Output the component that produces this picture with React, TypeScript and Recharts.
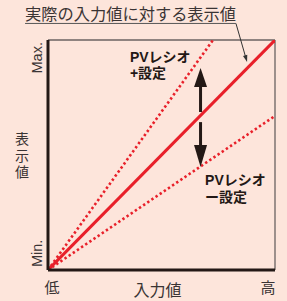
import React from 'react';
import { LineChart, Line, XAxis, YAxis, ReferenceLine, ReferenceDot } from 'recharts';

const BG = '#fde5db';
const RED = '#e8202a';
const INK = '#231815';
const GRAY = '#6a6262';
const TXT = '#3a3434';
const JP = '"Noto Sans CJK JP", "Noto Sans", sans-serif';
const LAT = '"Liberation Sans", Arial, "Noto Sans CJK JP", sans-serif';

// series (normalised input -> displayed value)
const actualLine = [{ x: 0, y: 0 }, { x: 1, y: 1 }];
const plusLine = [{ x: 0, y: 0 }, { x: 0.727, y: 1 }];
const minusLine = [{ x: 0, y: 0 }, { x: 1, y: 0.67 }];

// tick labels
const xTickValues = [0.018, 0.969];
const xTickLabels = ['低', '高'];
const yTickValues = [0.013, 0.991];
const yTickLabels = ['Min.', 'Max.'];

// titles / annotations
const titleText = '実際の入力値に対する表示値';
const xTitle = '入力値';
const yTitle = '表示値';
const plusLabel = ['PVレシオ', '+設定'];
const minusLabel = ['PVレシオ', 'ー設定'];

const arrowX = 0.672;
const upArrow = [{ x: arrowX, y: 0.687 }, { x: arrowX, y: 0.878 }];
const downArrow = [{ x: arrowX, y: 0.643 }, { x: arrowX, y: 0.448 }];
const leaderSeg = [{ x: 0.828, y: 1.072 }, { x: 0.877, y: 0.904 }];

const arrowShape = (w: number, headLen: number, headHalf: number, color: string) => (p: any) => {
  const { x1, y1, x2, y2 } = p;
  const dx = x2 - x1;
  const dy = y2 - y1;
  const len = Math.sqrt(dx * dx + dy * dy) || 1;
  const ux = dx / len;
  const uy = dy / len;
  const bx = x2 - ux * headLen;
  const by = y2 - uy * headLen;
  const nx = -uy;
  const ny = ux;
  const pts = `${x2},${y2} ${bx + nx * headHalf},${by + ny * headHalf} ${bx - nx * headHalf},${by - ny * headHalf}`;
  return (
    <g>
      <line x1={x1} y1={y1} x2={bx + ux * 1} y2={by + uy * 1} stroke={color} strokeWidth={w} />
      <polygon points={pts} fill={color} />
    </g>
  );
};

const textDot = (lines: string[], opts: { anchor?: string; size: number; weight?: number; family: string; lh: number; fill: string }) => (p: any) => (
  <g>
    {lines.map((t, k) => (
      <text
        key={k}
        x={p.cx}
        y={p.cy + k * opts.lh}
        textAnchor={opts.anchor || 'start'}
        fontFamily={opts.family}
        fontSize={opts.size}
        fontWeight={opts.weight || 400}
        fill={opts.fill}
      >
        {t}
      </text>
    ))}
  </g>
);

const verticalDot = (label: string) => (p: any) => (
  <text
    x={p.cx}
    y={p.cy}
    style={{ writingMode: 'vertical-rl' as any }}
    fontFamily={JP}
    fontSize={14}
    letterSpacing={2.5}
    fill={TXT}
  >
    {label}
  </text>
);

const rotatedDot = (label: string, anchor: string) => (p: any) => (
  <text
    x={p.cx}
    y={p.cy}
    transform={`rotate(-90 ${p.cx} ${p.cy})`}
    textAnchor={anchor}
    fontFamily={LAT}
    fontSize={14.5}
    fill={TXT}
  >
    {label}
  </text>
);

const titleShape = (p: any) => (
  <text x={p.cx} y={p.cy} fontFamily={JP} fontSize={16} fill={TXT} textLength={211} lengthAdjust="spacingAndGlyphs">
    {titleText}
  </text>
);

export default function App() {
  return (
    <div style={{ position: 'fixed', left: 0, top: 0, width: 287, height: 301, background: BG }}>
      <LineChart width={287} height={301} margin={{ top: 40, right: 12, bottom: 31, left: 48 }}>
        <XAxis type="number" dataKey="x" domain={[0, 1]} height={0} tick={false} tickLine={false} axisLine={false} allowDataOverflow />
        <YAxis type="number" dataKey="y" domain={[0, 1]} width={0} tick={false} tickLine={false} axisLine={false} allowDataOverflow />
        <ReferenceLine y={1} stroke={GRAY} strokeWidth={1.3} ifOverflow="visible" />
        <ReferenceLine x={1} stroke={GRAY} strokeWidth={1.3} ifOverflow="visible" />

        <Line data={minusLine} dataKey="y" stroke={RED} strokeWidth={2.6} strokeDasharray="2.4 2.6" dot={false} isAnimationActive={false} />
        <Line data={plusLine} dataKey="y" stroke={RED} strokeWidth={2.6} strokeDasharray="2.4 2.6" dot={false} isAnimationActive={false} />
        <Line data={actualLine} dataKey="y" stroke={RED} strokeWidth={3} dot={false} isAnimationActive={false} />

        <ReferenceLine y={0} stroke={INK} strokeWidth={3} ifOverflow="visible" segment={[{ x: -0.007, y: 0 }, { x: 1.003, y: 0 }]} />
        <ReferenceLine x={0} stroke={INK} strokeWidth={3} ifOverflow="visible" segment={[{ x: 0, y: 0 }, { x: 0, y: 1 }]} />

        <ReferenceLine segment={upArrow} ifOverflow="visible" shape={arrowShape(3, 19, 6.5, INK)} />
        <ReferenceLine segment={downArrow} ifOverflow="visible" shape={arrowShape(3, 22, 6.5, INK)} />
        <ReferenceLine segment={leaderSeg} ifOverflow="visible" shape={arrowShape(1, 7, 2.2, '#333')} />
        <ReferenceLine segment={[{ x: -0.101, y: 1.072 }, { x: 0.828, y: 1.072 }]} ifOverflow="visible" stroke="#555" strokeWidth={1} />

        <ReferenceDot x={-0.101} y={1.088} r={0} ifOverflow="visible" shape={titleShape} />
        <ReferenceDot x={0.361} y={0.904} r={0} ifOverflow="visible"
          shape={textDot(plusLabel, { size: 14, weight: 700, family: LAT, lh: 16, fill: INK })} />
        <ReferenceDot x={0.692} y={0.37} r={0} ifOverflow="visible"
          shape={textDot(minusLabel, { size: 14, weight: 700, family: LAT, lh: 17, fill: INK })} />
        <ReferenceDot x={0.482} y={-0.113} r={0} ifOverflow="visible"
          shape={textDot([xTitle], { size: 16, anchor: 'middle', family: JP, lh: 0, fill: TXT })} />
        <ReferenceDot x={-0.115} y={0.6} r={0} ifOverflow="visible" shape={verticalDot(yTitle)} />

        {xTickValues.map((v, i) => (
          <ReferenceDot key={`xt${i}`} x={v} y={-0.1} r={0} ifOverflow="visible"
            shape={textDot([xTickLabels[i]], { size: 15, anchor: 'middle', family: JP, lh: 0, fill: TXT })} />
        ))}
        {yTickValues.map((v, i) => (
          <ReferenceDot key={`yt${i}`} x={-0.0264} y={v} r={0} ifOverflow="visible"
            shape={rotatedDot(yTickLabels[i], i === 0 ? 'start' : 'end')} />
        ))}
      </LineChart>
    </div>
  );
}
